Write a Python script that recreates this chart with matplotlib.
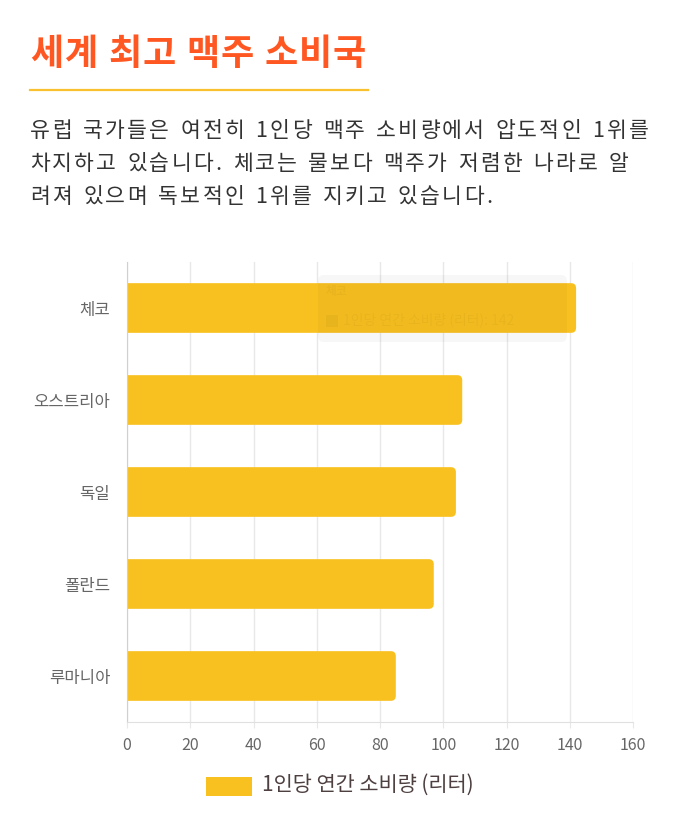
import matplotlib
matplotlib.use("Agg")
import matplotlib.pyplot as plt
from matplotlib.patches import FancyBboxPatch, Rectangle
from matplotlib.lines import Line2D
from matplotlib.font_manager import FontProperties

plt.rcParams['font.family'] = ['Noto Sans CJK KR', 'DejaVu Sans']

# ---- data ----
countries = ["체코", "오스트리아", "독일", "폴란드", "루마니아"]
consumption = [142, 106, 104, 97, 85]
series_label = "1인당 연간 소비량 (리터)"
xticks = [0, 20, 40, 60, 80, 100, 120, 140, 160]
title = "세계 최고 맥주 소비국"
paragraph = ["유럽 국가들은 여전히 1인당 맥주 소비량에서 압도적인 1위를",
             "차지하고 있습니다. 체코는 물보다 맥주가 저렴한 나라로 알",
             "려져 있으며 독보적인 1위를 지키고 있습니다."]

W, H = 680, 834
BAR = "#F9C120"
fig = plt.figure(figsize=(W / 100, H / 100), dpi=100)
fig.patch.set_facecolor("white")
renderer = fig.canvas.get_renderer()


def fx(px):
    return px / W


def fy(py):
    return 1 - py / H


def spaced_text(x_px, y_px, s, size, color, spacing_px, weight="normal", alpha=1.0,
                space_frac=0.30):
    fp = FontProperties(family=['Noto Sans CJK KR', 'DejaVu Sans'], size=size, weight=weight)
    x = x_px
    for ch in s:
        if ch == " ":
            w, _, _ = renderer.get_text_width_height_descent("가", fp, ismath=False)
            x += w * space_frac + spacing_px
            continue
        fig.text(fx(x), fy(y_px), ch, fontproperties=fp, color=color, va="center",
                 ha="left", alpha=alpha)
        w, _, _ = renderer.get_text_width_height_descent(ch, fp, ismath=False)
        x += w + spacing_px


# title + underline
spaced_text(30, 55, title, 26, "#FF5722", 0.6, weight="bold")
fig.add_artist(Line2D([fx(30), fx(368)], [fy(89.5), fy(89.5)], color="#FBC02D",
                      lw=1.6, transform=fig.transFigure))
for i, line in enumerate(paragraph):
    spaced_text(30, 131 + 33 * i, line, 15.5, "#333333", 2.3, space_frac=0.34)

# axes
L, R, T, B = 127, 633, 262, 722
ax = fig.add_axes([fx(L), fy(B), fx(R - L), (B - T) / H])
ypos = list(range(len(countries)))
bars = ax.barh(ypos, consumption, height=0.54, color=BAR)
ax.set_xlim(0, 160)
ax.set_ylim(len(countries) - 0.5, -0.5)

# rounded right ends
xpp = 160 / (R - L)
ypp = len(countries) / (B - T)
r_px = 5
for rect in bars.patches:
    x0, y0 = rect.get_x(), rect.get_y()
    w, h = rect.get_width(), rect.get_height()
    rect.set_visible(False)
    fb = FancyBboxPatch((x0 - 5, y0), w + 5, h,
                        boxstyle=f"round,pad=0,rounding_size={r_px * xpp}",
                        mutation_aspect=ypp / xpp, facecolor=BAR, edgecolor="none",
                        zorder=2)
    ax.add_patch(fb)
    fb.set_clip_path(ax.patch)

ax.set_xticks(xticks)
ax.set_yticks(ypos)
ax.set_yticklabels(countries)
ax.xaxis.grid(True, color="#E8E8E8", lw=1)
ax.set_axisbelow(True)
ax.tick_params(axis="x", length=4.5, color="#E8E8E8", labelcolor="#666666",
               labelsize=11.5, pad=6)
ax.tick_params(axis="y", length=0, labelcolor="#666666", labelsize=12, pad=12)
for s in ["top", "right"]:
    ax.spines[s].set_visible(False)
ax.spines["left"].set_color("#D0D0D0")
ax.spines["bottom"].set_color("#E0E0E0")

# faint tooltip remnant
tip = FancyBboxPatch((fx(318), fy(342)), fx(567) - fx(318), fy(275) - fy(342),
                     boxstyle="round,pad=0,rounding_size=0.008",
                     transform=fig.transFigure, facecolor="black", alpha=0.03,
                     edgecolor="none", zorder=5)
fig.add_artist(tip)
fig.text(fx(326), fy(291), countries[0], fontsize=8.5, color="black", alpha=0.035,
         va="center", ha="left", fontweight="bold")
fig.add_artist(Rectangle((fx(326), fy(327)), fx(12), 12 / H, transform=fig.transFigure,
                         facecolor="black", alpha=0.035, edgecolor="none"))
fig.text(fx(343), fy(320), f"{series_label}: {consumption[0]}", fontsize=10,
         color="black", alpha=0.035, va="center", ha="left")

# legend
fig.add_artist(Rectangle((fx(206), fy(796)), fx(46), 19 / H, transform=fig.transFigure,
                         facecolor=BAR, edgecolor="none"))
fig.text(fx(262), fy(785), series_label, fontsize=15, color="#4E4040",
         va="center", ha="left")

fig.savefig("out.png", dpi=100, facecolor="white")
